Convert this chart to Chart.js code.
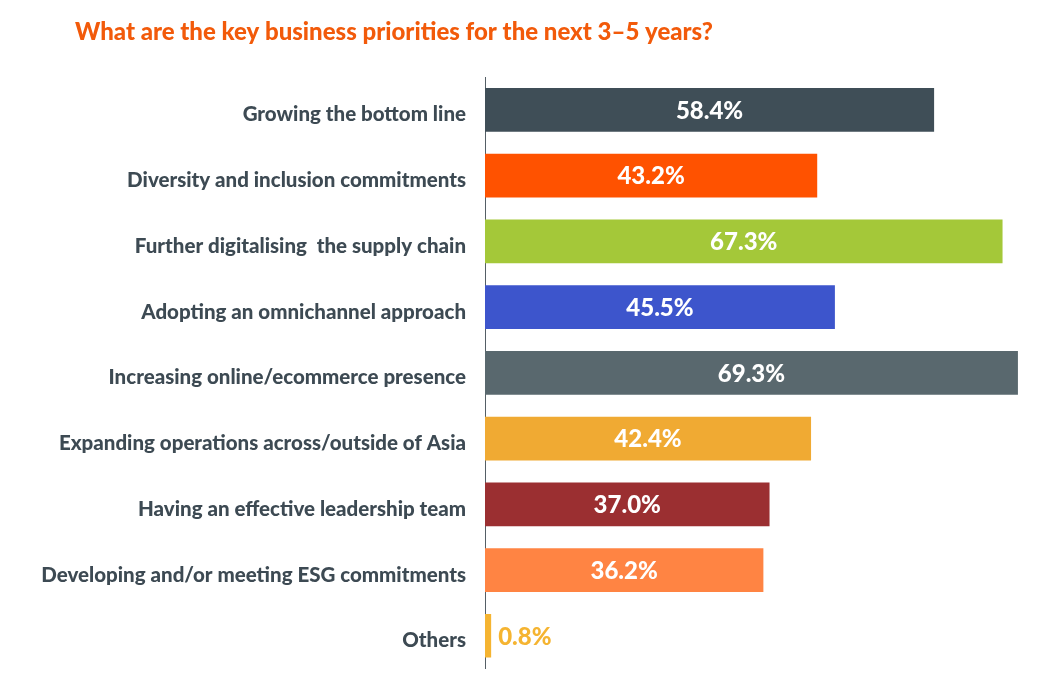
<!DOCTYPE html>
<html>
<head>
<meta charset="utf-8">
<script src="https://cdn.jsdelivr.net/npm/chart.js@4/dist/chart.umd.min.js"></script>
<style>
  html, body { margin: 0; padding: 0; background: #ffffff; }
  #wrap { width: 1039px; height: 700px; position: relative; }
</style>
</head>
<body>
<div id="wrap"><canvas id="c"></canvas></div>
<script>
const titleText = "What are the key business priorities for the next 3\u20135 years?";
const categories = [
  "Growing the bottom line",
  "Diversity and inclusion commitments",
  "Further digitalising  the supply chain",
  "Adopting an omnichannel approach",
  "Increasing online/ecommerce presence",
  "Expanding operations across/outside of Asia",
  "Having an effective leadership team",
  "Developing and/or meeting ESG commitments",
  "Others"
];
const values = [58.4, 43.2, 67.3, 45.5, 69.3, 42.4, 37.0, 36.2, 0.8];
const barColors = ["#3f4e57", "#ff5200", "#a4c839", "#3d55cc", "#59686e", "#f0aa33", "#9b2f31", "#ff8443", "#f5b431"];

const valueLabels = {
  id: 'valueLabels',
  afterDatasetsDraw(chart) {
    const ctx = chart.ctx;
    const meta = chart.getDatasetMeta(0);
    ctx.save();
    ctx.font = "900 24px Lato";
    ctx.textBaseline = "middle";
    meta.data.forEach((bar, i) => {
      const txt = values[i].toFixed(1) + "%";
      const w = bar.x - bar.base;
      const tw = ctx.measureText(txt).width;
      if (w > tw + 10) {
        ctx.fillStyle = "#ffffff";
        ctx.textAlign = "center";
        ctx.fillText(txt, (bar.x + bar.base) / 2, bar.y + 1);
      } else {
        ctx.fillStyle = barColors[i];
        ctx.textAlign = "left";
        ctx.fillText(txt, bar.x + 7, bar.y + 1);
      }
    });
    ctx.restore();
  }
};

const titleDraw = {
  id: 'titleDraw',
  afterDraw(chart) {
    const ctx = chart.ctx;
    ctx.save();
    ctx.font = "900 24px Lato";
    ctx.fillStyle = "#f25a0a";
    ctx.textAlign = "left";
    ctx.textBaseline = "middle";
    ctx.fillText(titleText, 75, 32);
    ctx.restore();
  }
};

new Chart(document.getElementById('c'), {
  type: 'bar',
  data: {
    labels: categories,
    datasets: [{
      data: values,
      backgroundColor: barColors,
      borderWidth: 0,
      categoryPercentage: 1,
      barPercentage: 0.663
    }]
  },
  options: {
    indexAxis: 'y',
    responsive: true,
    maintainAspectRatio: false,
    animation: false,
    layout: { padding: { left: 0, right: 8, top: 77, bottom: 25 } },
    plugins: {
      legend: { display: false },
      tooltip: { enabled: false },
      title: { display: false }
    },
    scales: {
      x: {
        display: false,
        min: 0,
        max: 71
      },
      y: {
        afterFit(scale) { scale.width = 485; },
        grid: { display: false, drawTicks: false },
        border: { display: true, color: '#555f66', width: 1 },
        ticks: {
          color: '#3d4a53',
          padding: 19,
          labelOffset: 5,
          font: { family: 'Lato', size: 20.5, weight: 900 }
        }
      }
    }
  },
  plugins: [valueLabels, titleDraw]
});
</script>
</body>
</html>
